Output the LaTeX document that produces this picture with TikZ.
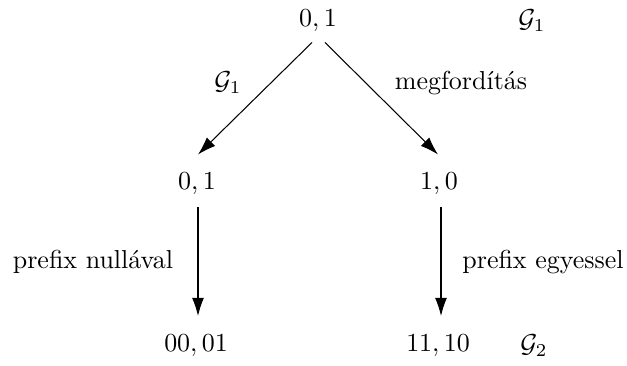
\documentclass[tikz,border=0pt]{standalone}
\usetikzlibrary{arrows.meta}
\begin{document}
\begin{tikzpicture}[x=0.385pt,y=-0.385pt,
  lbl/.style={inner sep=3.3pt},
  arr/.style={-{Latex[length=7pt,width=4.6pt]},line width=0.4pt}]
\useasboundingbox (0,0) rectangle (627,365);
\node[lbl] (top) at (318,21) {$0,1$};
\node[lbl] (g1r) at (532,21) {$\mathcal{G}_1$};
\node[lbl] (ml) at (197,184) {$0,1$};
\node[lbl] (mr) at (439,184) {$1,0$};
\node[lbl] (bl) at (196,346) {$00,01$};
\node[lbl] (br) at (438,346) {$11,10$};
\node[lbl] (g2r) at (534,346) {$\mathcal{G}_2$};
\node[lbl] (g1l) at (228,83) {$\mathcal{G}_1$};
\node[lbl] (mf) at (461,83) {megfordítás};
\node[lbl] (pn) at (93,262) {prefix nullával};
\node[lbl] (pe) at (543,262) {prefix egyessel};
\draw[arr] ([shift={(-6,1.5)}]top.south) -- ([shift={(1,-9.5)}]ml.north);
\draw[arr] ([shift={(7,1.5)}]top.south) -- ([shift={(-1,-9.5)}]mr.north);
\draw[arr] ([shift={(1,3)}]ml.south) -- ([shift={(2,-10)}]bl.north);
\draw[arr] ([shift={(2,3)}]mr.south) -- ([shift={(3,-10)}]br.north);
\end{tikzpicture}
\end{document}
